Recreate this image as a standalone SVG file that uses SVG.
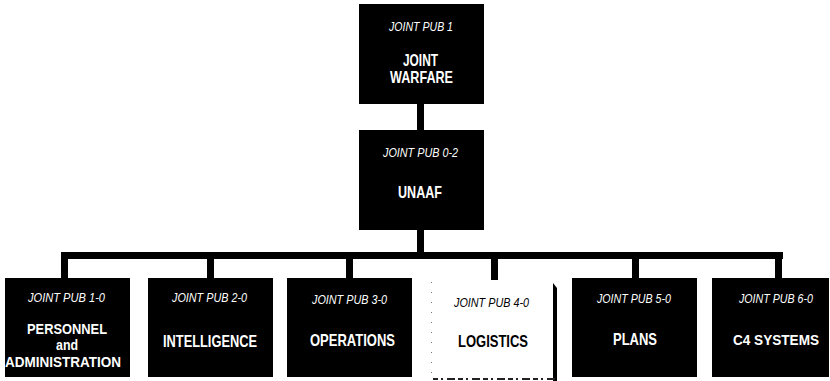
<svg xmlns="http://www.w3.org/2000/svg" width="830" height="381" viewBox="0 0 830 381">
<style>
.box{fill:#000}
.pub{font-family:"Liberation Sans",Arial,sans-serif;font-style:italic;font-size:12.5px;fill:#fff;text-anchor:middle}
.ttl{font-family:"Liberation Sans",Arial,sans-serif;font-weight:bold;font-size:16.5px;fill:#fff;text-anchor:middle}
.sm{font-size:15px}
.conn{fill:#000}
</style>
<rect width="830" height="381" fill="#fff"/>
<g id="connectors">
<rect class="conn" x="417" y="103" width="7" height="28"/>
<rect class="conn" x="417" y="229" width="7" height="24"/>
<rect class="conn" x="61" y="252" width="722" height="7"/>
<rect class="conn" x="61" y="258" width="7" height="21"/>
<rect class="conn" x="207" y="258" width="7" height="21"/>
<rect class="conn" x="346" y="258" width="7" height="21"/>
<rect class="conn" x="491" y="258" width="7" height="22"/>
<rect class="conn" x="632" y="258" width="7" height="21"/>
<rect class="conn" x="775" y="258" width="7" height="21"/>
</g>
<g id="jp1">
<rect class="box" x="359" y="4" width="125" height="100"/>
<text class="pub" x="421" y="31" textLength="64" lengthAdjust="spacingAndGlyphs">JOINT PUB 1</text>
<text class="ttl" x="420.5" y="66" textLength="35" lengthAdjust="spacingAndGlyphs">JOINT</text>
<text class="ttl" x="421.5" y="83" textLength="63" lengthAdjust="spacingAndGlyphs">WARFARE</text>
</g>
<g id="jp02">
<rect class="box" x="359" y="130" width="125" height="100"/>
<text class="pub" x="420.5" y="157" textLength="75" lengthAdjust="spacingAndGlyphs">JOINT PUB 0-2</text>
<text class="ttl" x="420" y="198" textLength="44" lengthAdjust="spacingAndGlyphs">UNAAF</text>
</g>
<g id="jp10">
<rect class="box" x="5" y="278" width="125" height="99"/>
<text class="pub" x="66.5" y="302" textLength="77" lengthAdjust="spacingAndGlyphs">JOINT PUB 1-0</text>
<text class="ttl sm" x="67" y="334" textLength="80" lengthAdjust="spacingAndGlyphs">PERSONNEL</text>
<text class="ttl sm" x="67" y="350" textLength="22" lengthAdjust="spacingAndGlyphs">and</text>
<text class="ttl sm" x="63" y="367" textLength="116" lengthAdjust="spacingAndGlyphs">ADMINISTRATION</text>
</g>
<g id="jp20">
<rect class="box" x="148" y="278" width="125" height="99"/>
<text class="pub" x="209.5" y="302" textLength="75" lengthAdjust="spacingAndGlyphs">JOINT PUB 2-0</text>
<text class="ttl" x="210" y="347" textLength="94" lengthAdjust="spacingAndGlyphs">INTELLIGENCE</text>
</g>
<g id="jp30">
<rect class="box" x="287" y="278" width="125" height="99"/>
<text class="pub" x="349.5" y="304" textLength="75" lengthAdjust="spacingAndGlyphs">JOINT PUB 3-0</text>
<text class="ttl" x="352.5" y="346" textLength="85" lengthAdjust="spacingAndGlyphs">OPERATIONS</text>
</g>
<g id="jp40">
<rect x="431" y="280" width="124" height="98" fill="#fff"/>
<line x1="431.5" y1="282" x2="431.5" y2="376" stroke="#777" stroke-width="1" stroke-dasharray="1 9"/>
<polygon points="553,283 557,288 557,381 553,381" fill="#000"/>
<line x1="433" y1="379" x2="555" y2="379" stroke="#222" stroke-width="2" stroke-dasharray="5 3 2 4 8 3"/>
<text class="pub" x="491.5" y="307" textLength="75" lengthAdjust="spacingAndGlyphs" style="fill:#000">JOINT PUB 4-0</text>
<text class="ttl" x="493" y="347" textLength="70" lengthAdjust="spacingAndGlyphs" style="fill:#000">LOGISTICS</text>
</g>
<g id="jp50">
<rect class="box" x="572" y="278" width="125" height="99"/>
<text class="pub" x="634" y="303" textLength="74" lengthAdjust="spacingAndGlyphs">JOINT PUB 5-0</text>
<text class="ttl" x="635" y="345" textLength="44" lengthAdjust="spacingAndGlyphs">PLANS</text>
</g>
<g id="jp60">
<rect class="box" x="712" y="278" width="117" height="99"/>
<text class="pub" x="776" y="303" textLength="74" lengthAdjust="spacingAndGlyphs">JOINT PUB 6-0</text>
<text class="ttl sm" x="776" y="345" textLength="86" lengthAdjust="spacingAndGlyphs">C4 SYSTEMS</text>
</g>
</svg>
